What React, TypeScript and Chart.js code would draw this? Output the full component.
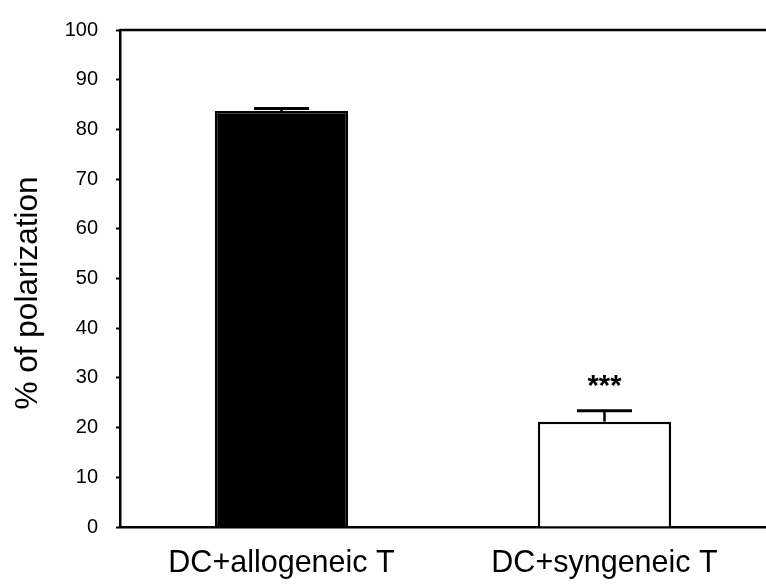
import React, { useEffect, useRef } from "react";
import { Chart, registerables } from "chart.js";

Chart.register(...registerables);

const categories = ["DC+allogeneic T", "DC+syngeneic T"];
const values = [83.7, 21.2];
const errors = [0.5, 2.2];
const barColors = ["#000000", "#ffffff"];
const significance = ["", "***"];
const yTitle = "% of polarization";
const yMin = 0;
const yMax = 100;
const yStep = 10;

const decorPlugin = {
  id: "decor",
  afterDatasetsDraw(chart: any) {
    const { ctx, chartArea, scales } = chart;
    const x = scales.x;
    const y = scales.y;
    ctx.save();
    // top frame line
    ctx.strokeStyle = "#000";
    ctx.lineWidth = 2.5;
    ctx.beginPath();
    ctx.moveTo(chartArea.left, chartArea.top);
    ctx.lineTo(chartArea.right, chartArea.top);
    ctx.stroke();
    // error bars
    values.forEach((v, i) => {
      const cx = x.getPixelForValue(i);
      const yTop = y.getPixelForValue(v);
      const yErr = y.getPixelForValue(v + errors[i]);
      ctx.lineWidth = 2.5;
      ctx.beginPath();
      ctx.moveTo(cx, yTop);
      ctx.lineTo(cx, yErr);
      ctx.stroke();
      ctx.lineWidth = 3;
      ctx.beginPath();
      ctx.moveTo(cx - 27.5, yErr);
      ctx.lineTo(cx + 27.5, yErr);
      ctx.stroke();
      if (significance[i]) {
        ctx.fillStyle = "#000";
        ctx.font = "bold 29px 'Liberation Sans', Arial, sans-serif";
        ctx.textAlign = "center";
        ctx.textBaseline = "middle";
        ctx.fillText(significance[i], cx, yErr - 24);
      }
    });
    // y title
    ctx.fillStyle = "#000";
    ctx.font = "31.5px 'Liberation Sans', Arial, sans-serif";
    ctx.translate(28, 293);
    ctx.rotate(-Math.PI / 2);
    ctx.textAlign = "center";
    ctx.textBaseline = "middle";
    ctx.fillText(yTitle, 0, 0);
    ctx.restore();
  },
};

export default function App() {
  const ref = useRef<HTMLCanvasElement>(null);
  useEffect(() => {
    document.body.style.margin = "0";
    const chart = new Chart(ref.current as HTMLCanvasElement, {
      type: "bar",
      data: {
        labels: categories,
        datasets: [
          {
            data: values,
            backgroundColor: barColors,
            borderColor: "#000",
            borderWidth: 2.5,
            barPercentage: 0.413,
            categoryPercentage: 1,
          },
        ],
      },
      options: {
        responsive: false,
        animation: false,
        devicePixelRatio: 1,
        layout: { padding: { top: 26, right: 0, left: 0, bottom: 0 } },
        plugins: { legend: { display: false }, tooltip: { enabled: false } },
        scales: {
          x: {
            afterFit: (s: any) => {
              s.height = 59;
            },
            grid: { display: false },
            border: { display: true, color: "#000", width: 2.5 },
            ticks: {
              color: "#000",
              padding: 10,
              font: { family: "'Liberation Sans', Arial, sans-serif", size: 30.5 },
            },
          },
          y: {
            min: yMin,
            max: yMax,
            afterFit: (s: any) => {
              s.width = 120;
            },
            grid: {
              display: true,
              drawOnChartArea: false,
              drawTicks: true,
              tickLength: 4,
              color: "#000",
              tickWidth: 2,
            },
            border: { display: true, color: "#000", width: 2.5 },
            ticks: {
              stepSize: yStep,
              color: "#000",
              padding: 18,
              font: { family: "'Liberation Sans', Arial, sans-serif", size: 20 },
            },
          },
        },
      },
      plugins: [decorPlugin],
    });
    return () => chart.destroy();
  }, []);
  return (
    <div style={{ position: "absolute", left: 0, top: 0, width: 766, height: 586 }}>
      <canvas ref={ref} width={766} height={586} style={{ width: 766, height: 586 }} />
    </div>
  );
}
